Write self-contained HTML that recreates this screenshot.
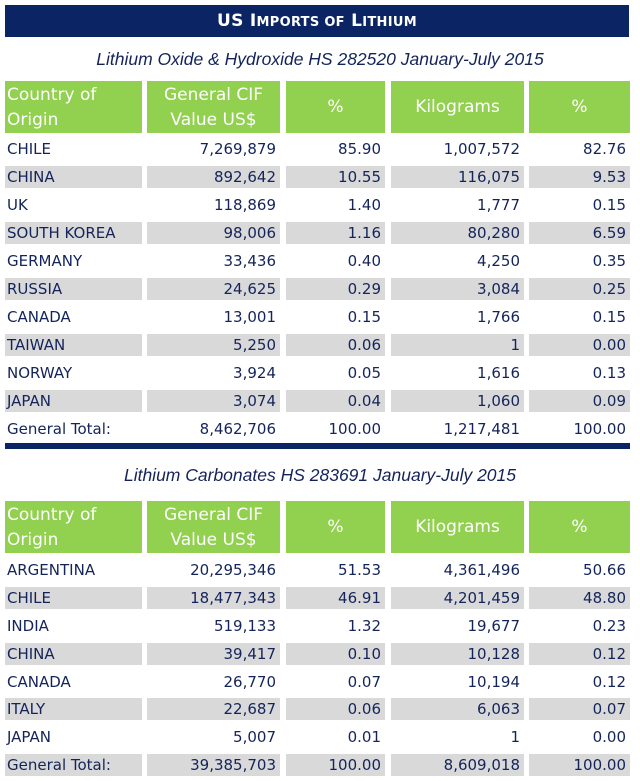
<!DOCTYPE html>
<html><head><meta charset="utf-8"><style>
body{margin:0;width:640px;height:781px;background:#fff;position:relative;font-family:"DejaVu Sans","Liberation Sans",sans-serif;color:#14245a;overflow:hidden}
.t{position:absolute;left:5px;top:5px;width:624px;height:32px;background:#0b2463;color:#fff;text-align:center;font-weight:bold;font-size:17px;line-height:32px;letter-spacing:0.3px}
.t small{font-size:13px}
.s{position:absolute;left:0;width:640px;text-align:center;font-style:italic;font-size:17.5px;color:#14245a;font-family:"Liberation Sans",sans-serif}
.r{position:absolute;left:0;width:640px;height:22px}
.r span{position:absolute;top:0;height:22px;line-height:22px;font-size:15px;text-align:right;padding-right:4px;box-sizing:border-box;white-space:nowrap}
.r span:nth-child(1){left:5px;width:137px;text-align:left;padding-left:2px}
.r span:nth-child(2){left:147px;width:133px}
.r span:nth-child(3){left:286px;width:99px}
.r span:nth-child(4){left:391px;width:133px}
.r span:nth-child(5){left:529px;width:101px}
.g span{background:#d9d9d9}
.h{height:52px}
.h span{height:52px;background:#92d050;color:#fff;font-size:17px;line-height:25px;text-align:center;padding:1px 0 0 0;display:flex;align-items:center;justify-content:center}
.h span:nth-child(1){text-align:left;justify-content:flex-start;padding-left:2px}
.line{position:absolute;left:5px;top:443px;width:625px;height:6px;background:#0b2463}
</style></head><body>
<div class="t">US I<small>MPORTS OF</small> L<small>ITHIUM</small></div>
<div class="s" style="top:49px">Lithium Oxide &amp; Hydroxide HS 282520 January-July 2015</div>
<div class="r h" style="top:81px"><span>Country of<br>Origin</span><span>General CIF<br>Value US$</span><span>%</span><span>Kilograms</span><span>%</span></div>
<div class="r" style="top:138px"><span>CHILE</span><span>7,269,879</span><span>85.90</span><span>1,007,572</span><span>82.76</span></div>
<div class="r g" style="top:166px"><span>CHINA</span><span>892,642</span><span>10.55</span><span>116,075</span><span>9.53</span></div>
<div class="r" style="top:194px"><span>UK</span><span>118,869</span><span>1.40</span><span>1,777</span><span>0.15</span></div>
<div class="r g" style="top:222px"><span>SOUTH KOREA</span><span>98,006</span><span>1.16</span><span>80,280</span><span>6.59</span></div>
<div class="r" style="top:250px"><span>GERMANY</span><span>33,436</span><span>0.40</span><span>4,250</span><span>0.35</span></div>
<div class="r g" style="top:278px"><span>RUSSIA</span><span>24,625</span><span>0.29</span><span>3,084</span><span>0.25</span></div>
<div class="r" style="top:306px"><span>CANADA</span><span>13,001</span><span>0.15</span><span>1,766</span><span>0.15</span></div>
<div class="r g" style="top:334px"><span>TAIWAN</span><span>5,250</span><span>0.06</span><span>1</span><span>0.00</span></div>
<div class="r" style="top:362px"><span>NORWAY</span><span>3,924</span><span>0.05</span><span>1,616</span><span>0.13</span></div>
<div class="r g" style="top:390px"><span>JAPAN</span><span>3,074</span><span>0.04</span><span>1,060</span><span>0.09</span></div>
<div class="r" style="top:418px"><span>General Total:</span><span>8,462,706</span><span>100.00</span><span>1,217,481</span><span>100.00</span></div>
<div class="line"></div>
<div class="s" style="top:465px">Lithium Carbonates HS 283691 January-July 2015</div>
<div class="r h" style="top:501px"><span>Country of<br>Origin</span><span>General CIF<br>Value US$</span><span>%</span><span>Kilograms</span><span>%</span></div>
<div class="r" style="top:559px"><span>ARGENTINA</span><span>20,295,346</span><span>51.53</span><span>4,361,496</span><span>50.66</span></div>
<div class="r g" style="top:587px"><span>CHILE</span><span>18,477,343</span><span>46.91</span><span>4,201,459</span><span>48.80</span></div>
<div class="r" style="top:615px"><span>INDIA</span><span>519,133</span><span>1.32</span><span>19,677</span><span>0.23</span></div>
<div class="r g" style="top:643px"><span>CHINA</span><span>39,417</span><span>0.10</span><span>10,128</span><span>0.12</span></div>
<div class="r" style="top:671px"><span>CANADA</span><span>26,770</span><span>0.07</span><span>10,194</span><span>0.12</span></div>
<div class="r g" style="top:698px"><span>ITALY</span><span>22,687</span><span>0.06</span><span>6,063</span><span>0.07</span></div>
<div class="r" style="top:726px"><span>JAPAN</span><span>5,007</span><span>0.01</span><span>1</span><span>0.00</span></div>
<div class="r g" style="top:754px"><span>General Total:</span><span>39,385,703</span><span>100.00</span><span>8,609,018</span><span>100.00</span></div>
</body></html>
